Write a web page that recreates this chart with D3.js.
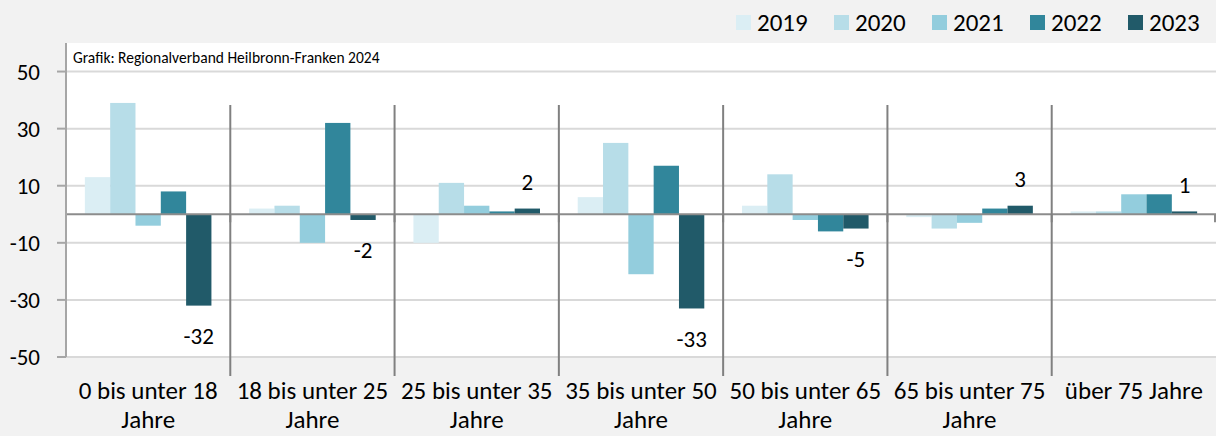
<!DOCTYPE html>
<html>
<head>
<meta charset="utf-8">
<script src="https://cdn.jsdelivr.net/npm/d3@7"></script>
<style>
  body { margin: 0; background: #f2f2f2; }
  text { font-family: Carlito, Calibri, Lato, sans-serif; fill: #000; }
</style>
</head>
<body>
<div id="chart"></div>
<script>
// Data
var categories = ["0 bis unter 18\nJahre", "18 bis unter 25\nJahre", "25 bis unter 35\nJahre",
                  "35 bis unter 50\nJahre", "50 bis unter 65\nJahre", "65 bis unter 75\nJahre", "über 75 Jahre"];
var years = ["2019", "2020", "2021", "2022", "2023"];
var v2019 = [13, 2, -10, 6, 3, -1, 1];
var v2020 = [39, 3, 11, 25, 14, -5, 1];
var v2021 = [-4, -10, 3, -21, -2, -3, 7];
var v2022 = [8, 32, 1, 17, -6, 2, 7];
var v2023 = [-32, -2, 2, -33, -5, 3, 1];
var yTicks = [50, 30, 10, -10, -30, -50];
var colors = ["#dbeef4", "#b7dde8", "#93cddd", "#31869b", "#215a69"];
var credit = "Grafik: Regionalverband Heilbronn-Franken 2024";

var series = [v2019, v2020, v2021, v2022, v2023];

var width = 1216, height = 436;
var plot = {left: 66, right: 1216, top: 43, bottom: 357};

var svg = d3.select("#chart").append("svg")
    .attr("width", width)
    .attr("height", height);

svg.append("rect")
    .attr("width", width).attr("height", height)
    .attr("fill", "#f2f2f2");

svg.append("rect")
    .attr("x", plot.left).attr("y", plot.top)
    .attr("width", plot.right - plot.left)
    .attr("height", plot.bottom - plot.top)
    .attr("fill", "#fff");

var y = d3.scaleLinear().domain([-50, 60]).range([plot.bottom, plot.top]);
var x0 = d3.scaleBand().domain(categories).range([plot.left, plot.right]).padding(0);
var x1 = d3.scaleBand().domain(years).range([0, x0.bandwidth()])
    .paddingInner(0).paddingOuter(0.745);
var color = d3.scaleOrdinal().domain(years).range(colors);

// gridlines
svg.selectAll(".grid")
    .data(yTicks)
    .enter().append("line")
    .attr("class", "grid")
    .attr("x1", plot.left).attr("x2", plot.right)
    .attr("y1", function(d) { return y(d); })
    .attr("y2", function(d) { return y(d); })
    .attr("stroke", "#d9d9d9")
    .attr("stroke-width", 2);

// credit
svg.append("text")
    .attr("x", 73).attr("y", 63)
    .style("font-size", "15.5px")
    .text(credit);

// bars
var rows = [];
categories.forEach(function(c, i) {
    years.forEach(function(yr, j) {
        rows.push({cat: c, year: yr, value: series[j][i]});
    });
});

svg.selectAll(".bar")
    .data(rows)
    .enter().append("rect")
    .attr("class", "bar")
    .attr("x", function(d) { return x0(d.cat) + x1(d.year); })
    .attr("width", x1.bandwidth())
    .attr("y", function(d) { return y(Math.max(0, d.value)); })
    .attr("height", function(d) { return Math.abs(y(d.value) - y(0)); })
    .attr("fill", function(d) { return color(d.year); });

// zero line + stubs
svg.append("line")
    .attr("x1", plot.left).attr("x2", plot.right)
    .attr("y1", y(0)).attr("y2", y(0))
    .attr("stroke", "#8c8c8c").attr("stroke-width", 2);

var bounds = categories.map(function(c) { return x0(c); }).concat([plot.right - 1]);
svg.selectAll(".stub")
    .data(bounds)
    .enter().append("line")
    .attr("x1", function(d) { return d; }).attr("x2", function(d) { return d; })
    .attr("y1", y(0)).attr("y2", y(0) + 8)
    .attr("stroke", "#8c8c8c").attr("stroke-width", 2);

// category separators
svg.selectAll(".sep")
    .data(categories.slice(1))
    .enter().append("line")
    .attr("x1", function(d) { return x0(d); })
    .attr("x2", function(d) { return x0(d); })
    .attr("y1", 105).attr("y2", 376)
    .attr("stroke", "#808080").attr("stroke-width", 2);

// y axis
svg.append("line")
    .attr("x1", plot.left).attr("x2", plot.left)
    .attr("y1", plot.top).attr("y2", plot.bottom)
    .attr("stroke", "#a6a6a6").attr("stroke-width", 2);

svg.selectAll(".ytick")
    .data(yTicks)
    .enter().append("line")
    .attr("x1", plot.left - 9).attr("x2", plot.left)
    .attr("y1", function(d) { return y(d); })
    .attr("y2", function(d) { return y(d); })
    .attr("stroke", "#a6a6a6").attr("stroke-width", 2);

svg.selectAll(".ylabel")
    .data(yTicks)
    .enter().append("text")
    .attr("x", 40)
    .attr("y", function(d) { return y(d); })
    .attr("dy", "0.36em")
    .attr("text-anchor", "end")
    .style("font-size", "23px")
    .text(function(d) { return d; });

// category labels
var xl = svg.selectAll(".xlabel")
    .data(categories)
    .enter().append("text")
    .attr("class", "xlabel")
    .attr("text-anchor", "middle")
    .style("font-size", "25px");

xl.each(function(d) {
    var lines = d.split("\n");
    var cx = x0(d) + x0.bandwidth() / 2;
    var t = d3.select(this);
    lines.forEach(function(l, k) {
        t.append("tspan")
            .attr("x", cx)
            .attr("y", 399 + k * 29)
            .text(l);
    });
});

// data labels (2023)
svg.selectAll(".vlabel")
    .data(rows.filter(function(d) { return d.year == "2023"; }))
    .enter().append("text")
    .attr("text-anchor", "middle")
    .attr("x", function(d) { return x0(d.cat) + x1(d.year) + x1.bandwidth() / 2; })
    .attr("y", function(d) { return d.value < 0 ? y(d.value) + 30 : y(d.value) - 27; })
    .attr("dy", "0.36em")
    .style("font-size", "23px")
    .text(function(d) { return d.value; });

// legend
var legend = svg.selectAll(".legend")
    .data(years)
    .enter().append("g")
    .attr("transform", function(d, i) { return "translate(" + (736 + i * 98) + ",0)"; });

legend.append("rect")
    .attr("y", 15).attr("width", 15).attr("height", 15)
    .attr("fill", function(d) { return color(d); });

legend.append("text")
    .attr("x", 21).attr("y", 22)
    .attr("dy", "0.36em")
    .style("font-size", "25px")
    .text(function(d) { return d; });
</script>
</body>
</html>
